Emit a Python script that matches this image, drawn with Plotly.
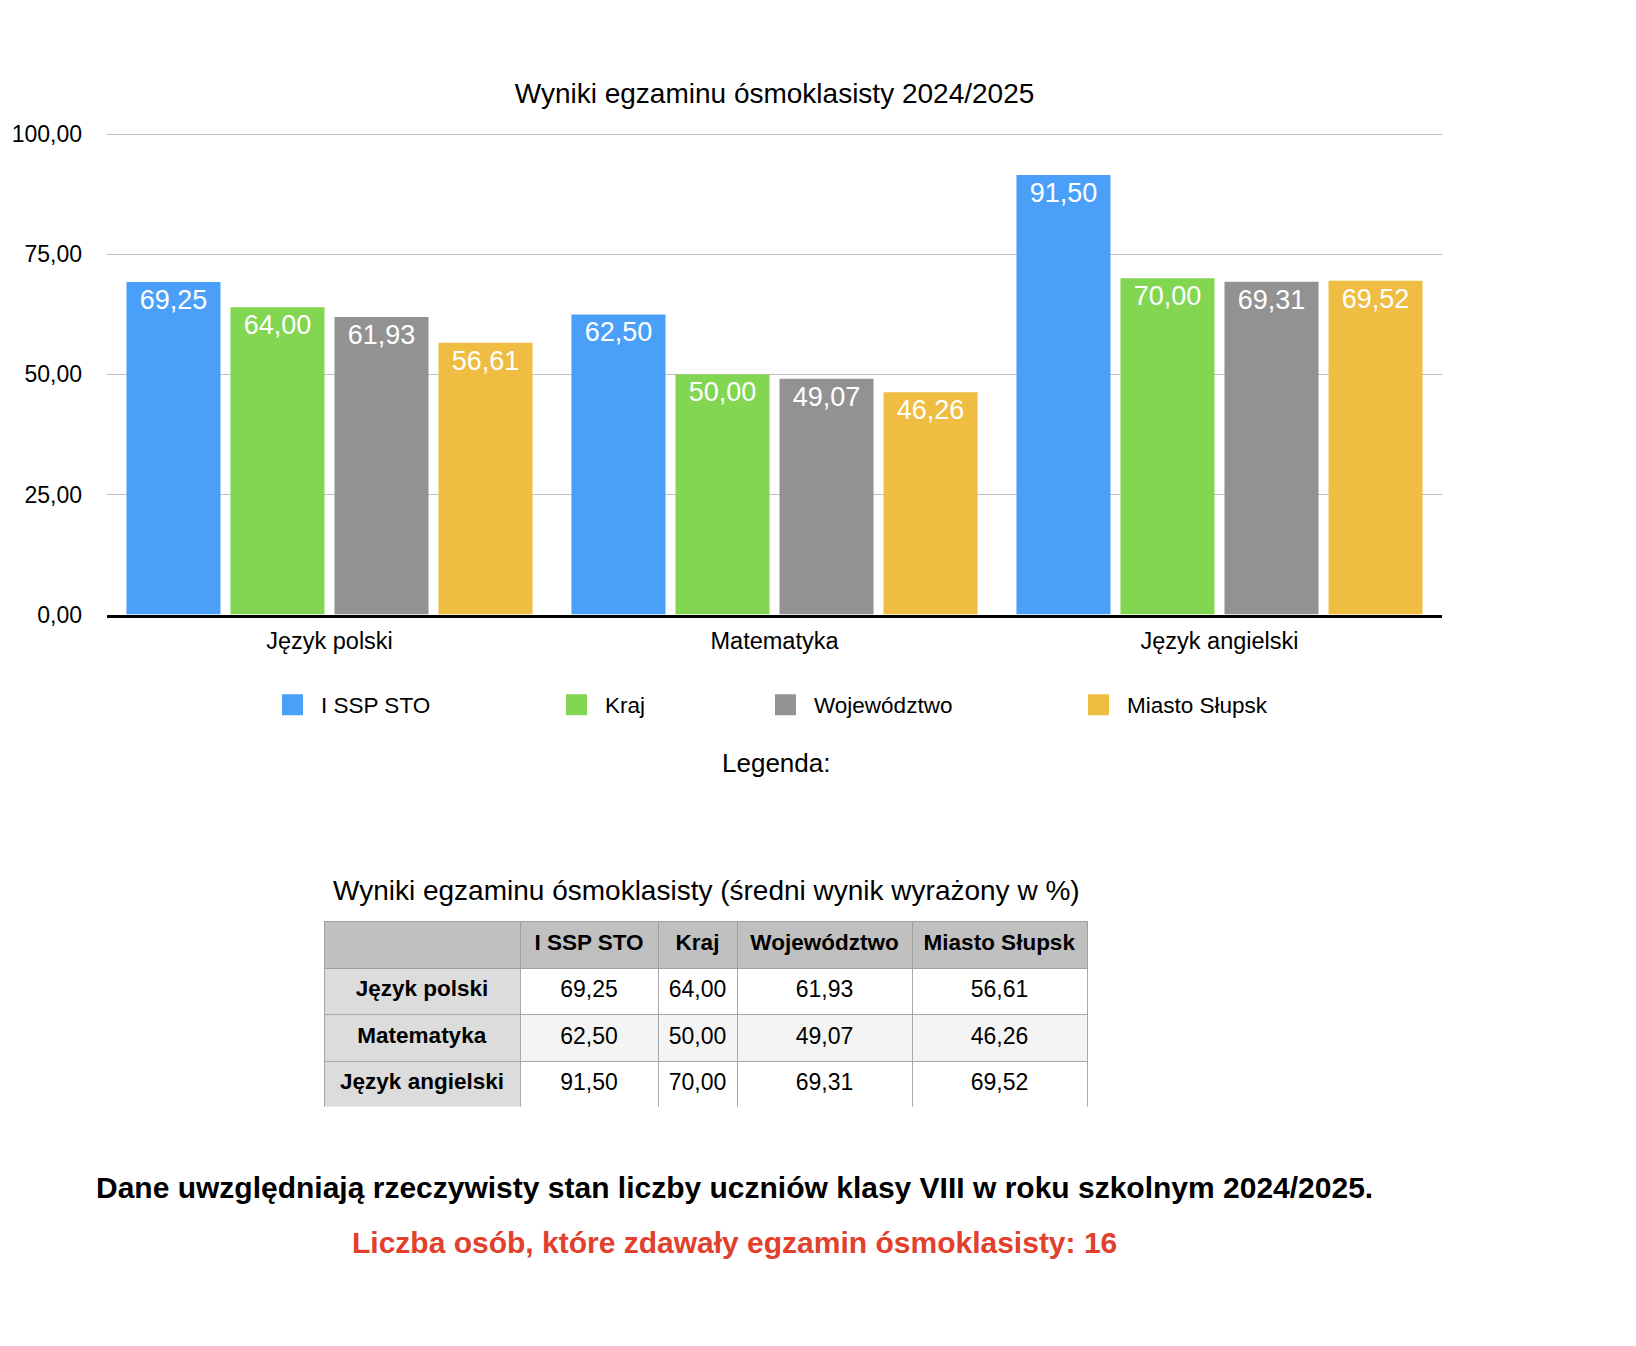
import plotly.graph_objects as go

# ---------------- data ----------------
subjects = ["Język polski", "Matematyka", "Język angielski"]
series_names = ["I SSP STO", "Kraj", "Województwo", "Miasto Słupsk"]
ssp_sto = [69.25, 62.50, 91.50]
kraj = [64.00, 50.00, 70.00]
wojewodztwo = [61.93, 49.07, 69.31]
miasto_slupsk = [56.61, 46.26, 69.52]
series_values = [ssp_sto, kraj, wojewodztwo, miasto_slupsk]
y_ticks = [0, 25, 50, 75, 100]

colors = ["#4AA0F8", "#82D652", "#929292", "#EFBD41"]
FONT = "Liberation Sans, Arial, Helvetica, sans-serif"
W, H = 1636, 1346


def px_x(v):
    return v / W


def px_y(v):
    return 1 - v / H


# plot area geometry (pixels)
ZERO_PX, HUNDRED_PX = 614.5, 134.3
Y_RANGE_MAX = 100.5
px_per_unit = (ZERO_PX - HUNDRED_PX) / 100.0
top_px = ZERO_PX - Y_RANGE_MAX * px_per_unit

fig = go.Figure()

legend_ids = ["legend", "legend2", "legend3", "legend4"]
for name, vals, col, lid in zip(series_names, series_values, colors, legend_ids):
    fig.add_trace(go.Bar(
        x=subjects, y=vals, name=name,
        marker=dict(color=col, line=dict(width=0)),
        texttemplate="%{y:.2f}", textposition="inside", insidetextanchor="end",
        textangle=0, constraintext="none",
        insidetextfont=dict(color="white", size=27, family=FONT),
        showlegend=False, legendgroup=name,
    ))
    fig.add_trace(go.Scatter(
        x=[None], y=[None], mode="markers", name=name,
        marker=dict(symbol="square", size=16, color=col, line=dict(width=5, color=col)),
        legend=lid, legendgroup=name, showlegend=True, hoverinfo="skip",
    ))

# ---------------- table ----------------
def fmt(v):
    return "<span>" + f"{v:.2f}".replace(".", ",") + "</span>"

header_vals = [""] + [f"<b>{s}</b>" for s in series_names]
cell_vals = [[f"<b>{s}</b>" for s in subjects]] + [[fmt(v) for v in vals] for vals in series_values]
first_col_fill = ["#DCDCDC"] * len(subjects)
data_fill = ["#FFFFFF", "#F4F4F4", "#FFFFFF"]
fig.add_trace(go.Table(
    domain=dict(x=[px_x(324), px_x(1087.5)], y=[px_y(1107.5), px_y(921.5)]),
    columnwidth=[196, 138, 79, 175, 175],
    header=dict(values=header_vals, fill_color="#C0C0C0", line=dict(color="#A0A0A0", width=1),
                font=dict(family=FONT, size=22.5, color="black"), align="center", height=46.5),
    cells=dict(values=cell_vals, fill_color=[first_col_fill] + [data_fill] * 4,
               line=dict(color="#A8A8A8", width=1),
               font=dict(family=FONT, size=[22.5, 23, 23, 23, 23], color="black"),
               align="center", height=46.5),
))

legend_sq_left = [281, 565, 774, 1087]
legend_common = dict(orientation="h", yanchor="middle", xanchor="left", bgcolor="rgba(0,0,0,0)",
                     font=dict(family=FONT, size=22.5, color="black"), itemwidth=47,
                     itemclick=False, itemdoubleclick=False)
legends = {}
for lid, sx in zip(legend_ids, legend_sq_left):
    legends[lid] = dict(x=px_x(sx - 17), y=px_y(705), **legend_common)

fig.update_layout(
    width=W, height=H,
    margin=dict(l=0, r=0, t=0, b=0, pad=0, autoexpand=False),
    paper_bgcolor="white", plot_bgcolor="white",
    separators=", ",
    font=dict(family=FONT, color="black"),
    title=dict(text="Wyniki egzaminu ósmoklasisty 2024/2025", x=px_x(774.5), y=px_y(93),
               xanchor="center", yanchor="middle", xref="paper", yref="paper", automargin=False,
               font=dict(family=FONT, size=28, color="black")),
    barmode="group", bargap=0.065, bargroupgap=0.096,
    xaxis=dict(domain=[px_x(107), px_x(1442)], showline=True, linecolor="black", linewidth=2.5,
               showgrid=False, ticks="", ticklabelstandoff=4, automargin=False,
               tickfont=dict(family=FONT, size=23.5, color="black"), fixedrange=True),
    yaxis=dict(domain=[px_y(ZERO_PX), px_y(top_px)], range=[0, Y_RANGE_MAX], tickvals=y_ticks,
               tickformat=".2f", automargin=False,
               showgrid=True, gridcolor="#BDBDBD", gridwidth=1.3, zeroline=False, showline=False,
               ticks="", ticklabelstandoff=24,
               tickfont=dict(family=FONT, size=23, color="black"), fixedrange=True),
    annotations=[
        dict(text="Legenda:", x=px_x(776), y=px_y(763), xref="paper", yref="paper",
             showarrow=False, xanchor="center", yanchor="middle",
             font=dict(family=FONT, size=26, color="black")),
        dict(text="<b>Dane uwzględniają rzeczywisty stan liczby uczniów klasy VIII w roku szkolnym 2024/2025.</b>",
             x=px_x(734), y=px_y(1187), xref="paper", yref="paper", showarrow=False,
             xanchor="center", yanchor="middle", font=dict(family=FONT, size=30, color="black")),
        dict(text="<b>Liczba osób, które zdawały egzamin ósmoklasisty: 16</b>",
             x=px_x(734), y=px_y(1242), xref="paper", yref="paper", showarrow=False,
             xanchor="center", yanchor="middle", font=dict(family=FONT, size=30, color="#E0402C")),
        dict(text="Wyniki egzaminu ósmoklasisty (średni wynik wyrażony w %)",
             x=px_x(706), y=px_y(890), xref="paper", yref="paper", showarrow=False,
             xanchor="center", yanchor="middle", font=dict(family=FONT, size=28, color="black")),
    ],
    **legends,
)

fig.write_html("out.html", config={"displayModeBar": False},
               post_script="document.body.style.margin='0';document.body.style.overflow='hidden';")
